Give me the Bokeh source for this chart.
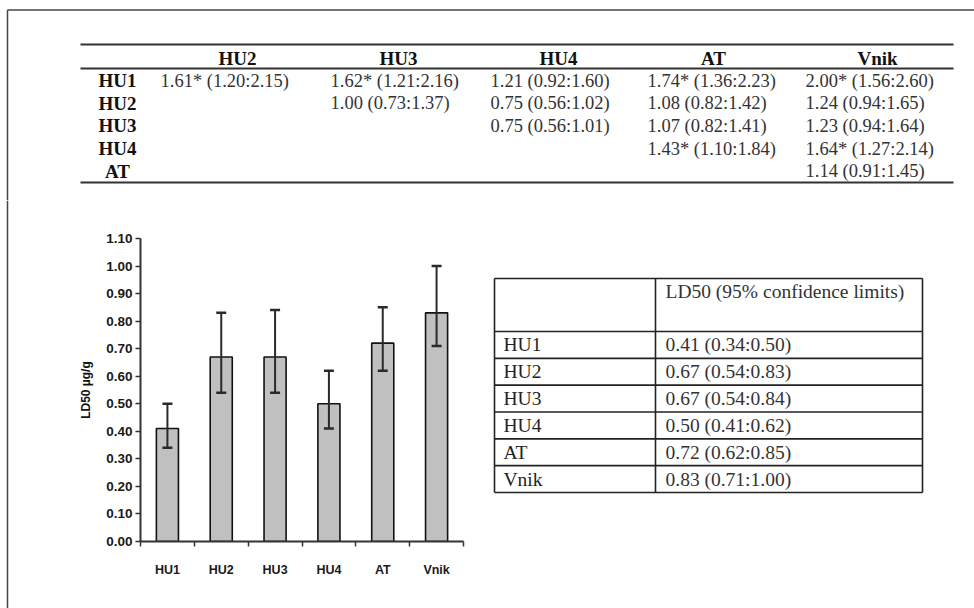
from bokeh.plotting import figure
from bokeh.layouts import column, row
from bokeh.models import (Range1d, FixedTicker, NumeralTickFormatter, Whisker,
                          TeeHead, ColumnDataSource)
from bokeh.core.properties import value
from bokeh.embed import file_html
from bokeh.resources import INLINE

# ---- LD50 per strain (ug/g) with 95% confidence limits ----
strains = ["HU1", "HU2", "HU3", "HU4", "AT", "Vnik"]
ld50 = [0.41, 0.67, 0.67, 0.50, 0.72, 0.83]
ld50_lower = [0.34, 0.54, 0.54, 0.41, 0.62, 0.71]
ld50_upper = [0.50, 0.83, 0.84, 0.62, 0.85, 1.00]

# ---- pairwise LD50 ratios (row strain vs column strain) ----
ratio_rows = ["HU1", "HU2", "HU3", "HU4", "AT"]
ratio_cols = ["HU2", "HU3", "HU4", "AT", "Vnik"]
ratio = [
    [1.61, 1.62, 1.21, 1.74, 2.00],
    [None, 1.00, 0.75, 1.08, 1.24],
    [None, None, 0.75, 1.07, 1.23],
    [None, None, None, 1.43, 1.64],
    [None, None, None, None, 1.14],
]
ratio_lower = [
    [1.20, 1.21, 0.92, 1.36, 1.56],
    [None, 0.73, 0.56, 0.82, 0.94],
    [None, None, 0.56, 0.82, 0.94],
    [None, None, None, 1.10, 1.27],
    [None, None, None, None, 0.91],
]
ratio_upper = [
    [2.15, 2.16, 1.60, 2.23, 2.60],
    [None, 1.37, 1.02, 1.42, 1.65],
    [None, None, 1.01, 1.41, 1.64],
    [None, None, None, 1.84, 2.14],
    [None, None, None, None, 1.45],
]

SERIF = value("Liberation Serif")
SANS = "Liberation Sans"
INK = "#333333"


def blank(width, height):
    """A figure in plain pixel coordinates with no axes, used for tables."""
    f = figure(width=width, height=height, x_range=Range1d(0, width),
               y_range=Range1d(height, 0), x_axis_type=None, y_axis_type=None,
               output_backend="svg", toolbar_location=None,
               min_border=0, outline_line_color=None, frame_align=False)
    f.grid.visible = False
    return f


# ================= top: ratio table =================
TOP_H = 200
top = blank(974, TOP_H)
# page frame (top and left edges)
top.segment(x0=[7, 7], y0=[9.5, 9.5], x1=[974, 7], y1=[9.5, TOP_H],
            line_color="#444444", line_width=1.5)
# table rules
top.segment(x0=[80, 80, 80], y0=[44, 68, 182], x1=[953, 953, 953],
            y1=[44, 68, 182], line_color="#333333", line_width=2)

header_cx = [237, 398, 558, 713, 877]
cell_left = [160, 330, 490, 647, 805]
label_cx = 117
header_y = 58
row_y0, row_step = 80, 22.7

top.text(x=header_cx, y=[header_y] * len(ratio_cols), text=ratio_cols,
         text_font=SERIF, text_font_size=value("19px"),
         text_font_style="bold", text_color="#111111",
         text_align="center", text_baseline="middle")
row_ys = [row_y0 + i * row_step for i in range(len(ratio_rows))]
top.text(x=[label_cx] * len(ratio_rows), y=row_ys, text=ratio_rows,
         text_font=SERIF, text_font_size=value("19px"),
         text_font_style="bold", text_color="#111111",
         text_align="center", text_baseline="middle")

cx, cy, ctext = [], [], []
for i in range(len(ratio_rows)):
    for j in range(len(ratio_cols)):
        r = ratio[i][j]
        if r is None:
            continue
        lo, hi = ratio_lower[i][j], ratio_upper[i][j]
        star = "*" if lo > 1 else ""
        cx.append(cell_left[j])
        cy.append(row_ys[i])
        ctext.append(f"{r:.2f}{star} ({lo:.2f}:{hi:.2f})")
top.text(x=cx, y=cy, text=ctext, text_font=SERIF,
         text_font_size=value("18.5px"), text_color=INK,
         text_align="left", text_baseline="middle")

# ================= bottom left: page frame strip =================
BOT_H = 608 - TOP_H
edge = blank(20, BOT_H)
edge.segment(x0=[7], y0=[0], x1=[7], y1=[BOT_H], line_color="#444444",
             line_width=1.5)

# ================= bottom middle: LD50 bar chart =================
n = len(strains)
centers = [i + 0.5 for i in range(n)]
chart = figure(width=460, height=BOT_H, x_range=Range1d(0, n),
               y_range=Range1d(0, 1.1), output_backend="svg",
               toolbar_location=None, min_border_left=120,
               min_border_right=17, min_border_top=38, min_border_bottom=67,
               outline_line_color=None, frame_align=False)
chart.grid.visible = False

chart.vbar(x=centers, top=ld50, width=0.41, fill_color="#c0c0c0",
           line_color="#111111", line_width=1.6)

# confidence-limit bars drawn over the columns
err = ColumnDataSource(dict(x=centers, lower=ld50_lower, upper=ld50_upper))
chart.add_layout(Whisker(source=err, base="x", lower="lower", upper="upper",
                         level="overlay",
                         line_color="#2a2a2a", line_width=2,
                         upper_head=TeeHead(size=10, line_color="#2a2a2a",
                                            line_width=2.5),
                         lower_head=TeeHead(size=10, line_color="#2a2a2a",
                                            line_width=2.5)))

xa = chart.xaxis[0]
xa.ticker = FixedTicker(ticks=centers, minor_ticks=list(range(n + 1)))
xa.major_label_overrides = {c: s for c, s in zip(centers, strains)}
xa.major_tick_line_color = None
xa.major_tick_out = 0
xa.minor_tick_in = 0
xa.minor_tick_out = 5
xa.minor_tick_line_color = "#333333"
xa.minor_tick_line_width = 1.5
xa.axis_line_color = "#333333"
xa.axis_line_width = 2
xa.major_label_standoff = 16
xa.major_label_text_font = SANS
xa.major_label_text_font_style = "bold"
xa.major_label_text_font_size = "12.5px"
xa.major_label_text_color = "#1a1a1a"

ya = chart.yaxis[0]
ya.ticker = FixedTicker(ticks=[round(0.1 * k, 2) for k in range(12)],
                        minor_ticks=[])
ya.formatter = NumeralTickFormatter(format="0.00")
ya.major_tick_in = 0
ya.major_tick_out = 5
ya.major_tick_line_color = "#333333"
ya.major_tick_line_width = 1.5
ya.minor_tick_line_color = None
ya.axis_line_color = "#333333"
ya.axis_line_width = 2
ya.major_label_standoff = 3
ya.major_label_text_font = SANS
ya.major_label_text_font_style = "bold"
ya.major_label_text_font_size = "13.5px"
ya.major_label_text_color = "#1a1a1a"
ya.axis_label = "LD50 µg/g"
ya.axis_label_text_font = SANS
ya.axis_label_text_font_style = "bold"
ya.axis_label_text_font_size = "12px"
ya.axis_label_text_color = "#111111"
ya.axis_label_standoff = 10

# ================= bottom right: LD50 table =================
TW = 974 - 480
tab = blank(TW, BOT_H)
t_left, t_div, t_right = 14, 175, 442
t_top, t_head, t_bot = 78, 131, 292
row_h = (t_bot - t_head) / n
hy = [t_top, t_bot] + [t_head + k * row_h for k in range(n)]
tab.segment(x0=[t_left] * len(hy), y0=hy, x1=[t_right] * len(hy), y1=hy,
            line_color="#222222", line_width=1.6)
tab.segment(x0=[t_left, t_div, t_right], y0=[t_top] * 3,
            x1=[t_left, t_div, t_right], y1=[t_bot] * 3,
            line_color="#222222", line_width=1.6)

tab.text(x=[185], y=[91], text=["LD50 (95% confidence limits)"],
         text_font=SERIF, text_font_size=value("19.5px"), text_color=INK,
         text_align="left", text_baseline="middle")
ty = [t_head + (k + 0.5) * row_h for k in range(n)]
tab.text(x=[23] * n, y=ty, text=strains, text_font=SERIF,
         text_font_size=value("19.5px"), text_color="#222222",
         text_align="left", text_baseline="middle")
tab.text(x=[185] * n, y=ty,
         text=[f"{v:.2f} ({lo:.2f}:{hi:.2f})"
               for v, lo, hi in zip(ld50, ld50_lower, ld50_upper)],
         text_font=SERIF, text_font_size=value("19.5px"), text_color=INK,
         text_align="left", text_baseline="middle")

page = column(top, row(edge, chart, tab, spacing=0), spacing=0)

open("out.html", "w").write(file_html(page, INLINE))
